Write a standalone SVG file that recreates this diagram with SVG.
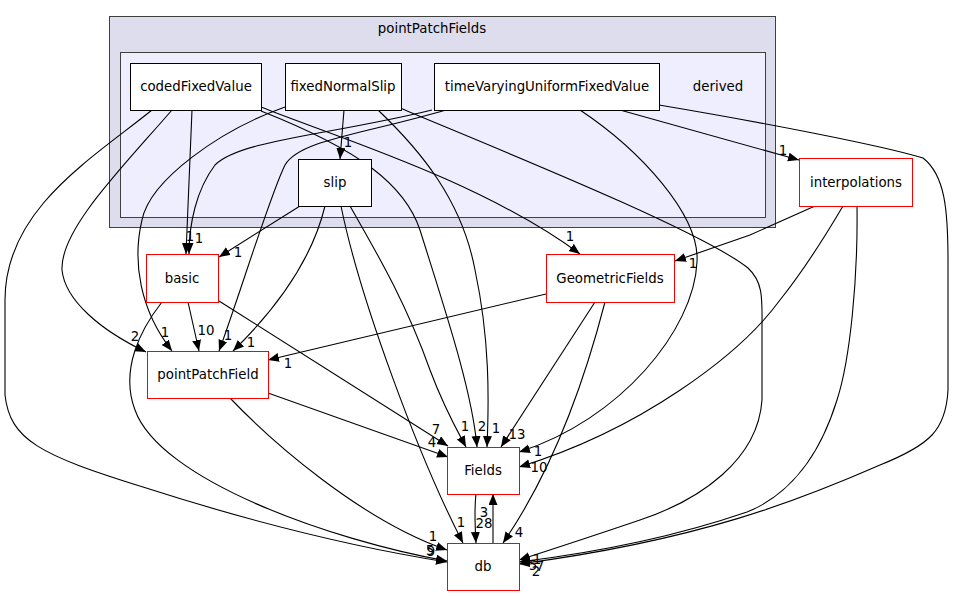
<svg xmlns="http://www.w3.org/2000/svg" width="958" height="596" viewBox="0 0 958 596">
<style>
text{font-family:"DejaVu Sans","Liberation Sans",sans-serif;font-size:13.33px;fill:#000}
.nl{text-anchor:middle}
.el{text-anchor:middle}
.e{fill:none;stroke:#000;stroke-width:1.1}
.n{fill:#fff;stroke:#000;stroke-width:1}
.r{fill:#fff;stroke:#ff0000;stroke-width:1}
</style>
<defs>
<marker id="a" markerUnits="userSpaceOnUse" markerWidth="12" markerHeight="10" refX="11" refY="4.5" orient="auto">
<path d="M0,0 L11,4.5 L0,9 z" fill="#000"/>
</marker>
</defs>
<rect width="958" height="596" fill="#fff"/>
<g id="cluster_pointPatchFields">
<rect x="109.5" y="16.5" width="666" height="211" fill="#ddddee" stroke="#404040"/>
<text class="nl" x="432" y="33">pointPatchFields</text>
</g>
<g id="cluster_derived">
<rect x="120.5" y="52.5" width="645" height="165" fill="#eeeeff" stroke="#404040"/>
<text class="nl" x="718" y="91">derived</text>
</g>
<g id="edges">
<path class="e" marker-end="url(#a)" d="M344,110 L340,159"/>
<text class="el" x="348" y="147">1</text>
<path class="e" marker-end="url(#a)" d="M192,110 L186,254"/>
<path class="e" marker-end="url(#a)" d="M432,110 C330,135 240,140 215,165 C196,190 189,225 189,254"/>
<text class="el" x="190" y="241">1</text>
<text class="el" x="199" y="243">1</text>
<path class="e" marker-end="url(#a)" d="M300,206 L219,257"/>
<text class="el" x="238" y="257">1</text>
<path class="e" marker-end="url(#a)" d="M172,110 C120,170 60,230 62,270 C65,300 100,330 146,352"/>
<text class="el" x="135" y="341">2</text>
<path class="e" marker-end="url(#a)" d="M285,107 C220,130 150,180 142,220 C132,262 140,310 172,351"/>
<text class="el" x="165" y="337">1</text>
<path class="e" marker-end="url(#a)" d="M188,302 L199,351"/>
<text class="el" x="206" y="335">10</text>
<path class="e" marker-end="url(#a)" d="M446,110 C360,135 300,140 285,165 C270,195 238,300 219,351"/>
<text class="el" x="228" y="340">1</text>
<path class="e" marker-end="url(#a)" d="M325,206 C312,260 275,310 233,351"/>
<text class="el" x="251" y="347">1</text>
<path class="e" marker-end="url(#a)" d="M546,294 L268,360"/>
<text class="el" x="288" y="368">1</text>
<path class="e" marker-end="url(#a)" d="M261,107 C330,135 480,180 580,254"/>
<text class="el" x="570" y="241">1</text>
<path class="e" marker-end="url(#a)" d="M620,110 L799,160"/>
<text class="el" x="783" y="155">1</text>
<path class="e" marker-end="url(#a)" d="M815,206 L750,235 L675,261"/>
<text class="el" x="693" y="268">1</text>
<path class="e" marker-end="url(#a)" d="M219,301 L448,446"/>
<text class="el" x="436" y="434">7</text>
<path class="e" marker-end="url(#a)" d="M268,393 L448,457"/>
<text class="el" x="432" y="447">4</text>
<path class="e" marker-end="url(#a)" d="M350,206 C375,250 405,300 430,370 C445,410 458,432 466,447"/>
<text class="el" x="465" y="431">1</text>
<path class="e" marker-end="url(#a)" d="M261,111 C360,150 405,185 420,230 C445,310 472,390 477,447"/>
<text class="el" x="482" y="431">2</text>
<path class="e" marker-end="url(#a)" d="M378,110 C420,150 462,200 475,270 C490,340 489,400 487,447"/>
<text class="el" x="496" y="433">1</text>
<path class="e" marker-end="url(#a)" d="M595,302 L501,447"/>
<text class="el" x="517" y="439">13</text>
<path class="e" marker-end="url(#a)" d="M580,110 C640,150 700,215 697,262 C694,330 620,420 519,452"/>
<text class="el" x="538" y="456">1</text>
<path class="e" marker-end="url(#a)" d="M843,206 C820,245 800,275 780,300 C740,355 640,430 519,467"/>
<text class="el" x="539" y="472">10</text>
<path class="e" marker-end="url(#a)" d="M341,206 C360,300 420,460 463,543"/>
<text class="el" x="461" y="527">1</text>
<path class="e" marker-end="url(#a)" d="M605,302 C590,360 560,460 503,543"/>
<text class="el" x="519" y="537">4</text>
<path class="e" marker-end="url(#a)" d="M476,494 C474,510 475,525 476,543"/>
<text class="el" x="484" y="528">28</text>
<path class="e" marker-end="url(#a)" d="M493,543 L493,494"/>
<text class="el" x="484" y="517">3</text>
<path class="e" marker-end="url(#a)" d="M230,398 C270,440 360,520 447,550"/>
<text class="el" x="433" y="541">1</text>
<path class="e" marker-end="url(#a)" d="M152,110 C90,160 5,210 5,300 L5,395 C10,440 40,455 143,487 C230,515 340,545 447,562"/>
<path class="e" marker-end="url(#a)" d="M162,302 C140,330 120,370 135,410 C160,480 330,540 447,561"/>
<text class="el" x="430" y="555">5</text>
<text class="el" x="431" y="556">9</text>
<path class="e" marker-end="url(#a)" d="M400,108 C500,150 700,230 748,268 C764,283 762,300 762,330 L762,400 C758,460 700,500 640,520 C590,537 550,550 519,560"/>
<path class="e" marker-end="url(#a)" d="M857,206 C858,280 850,360 837,400 C820,455 790,495 747,512 C680,535 600,552 519,562"/>
<path class="e" marker-end="url(#a)" d="M659,105 C760,122 880,145 923,158 C945,175 948,210 948,260 L948,390 C946,430 930,445 880,465 C800,500 700,540 519,564"/>
<text class="el" x="537" y="564">1</text>
<text class="el" x="533" y="570">5</text>
<text class="el" x="540" y="571">7</text>
<text class="el" x="536" y="576">2</text>
</g>
<g id="node_codedFixedValue">
<rect class="n" x="130.5" y="63.5" width="131" height="47"/>
<text class="nl" x="196" y="91">codedFixedValue</text>
</g>
<g id="node_fixedNormalSlip">
<rect class="n" x="285.5" y="63.5" width="116" height="47"/>
<text class="nl" x="343" y="91">fixedNormalSlip</text>
</g>
<g id="node_timeVaryingUniformFixedValue">
<rect class="n" x="434.5" y="63.5" width="225" height="47"/>
<text class="nl" x="547" y="91">timeVaryingUniformFixedValue</text>
</g>
<g id="node_slip">
<rect class="n" x="298.5" y="159.5" width="73" height="47"/>
<text class="nl" x="335" y="187">slip</text>
</g>
<g id="node_interpolations">
<rect class="r" x="799.5" y="158.5" width="113" height="48"/>
<text class="nl" x="856" y="187">interpolations</text>
</g>
<g id="node_basic">
<rect class="r" x="146.5" y="254.5" width="72" height="48"/>
<text class="nl" x="182" y="283">basic</text>
</g>
<g id="node_GeometricFields">
<rect class="r" x="546.5" y="254.5" width="128" height="48"/>
<text class="nl" x="610" y="283">GeometricFields</text>
</g>
<g id="node_pointPatchField">
<rect class="r" x="147.5" y="351.5" width="121" height="47"/>
<text class="nl" x="208" y="379">pointPatchField</text>
</g>
<g id="node_Fields">
<rect class="r" x="447.5" y="447.5" width="72" height="47"/>
<text class="nl" x="483" y="475">Fields</text>
</g>
<g id="node_db">
<rect class="r" x="447.5" y="543.5" width="72" height="47"/>
<text class="nl" x="483" y="571">db</text>
</g>
</svg>
